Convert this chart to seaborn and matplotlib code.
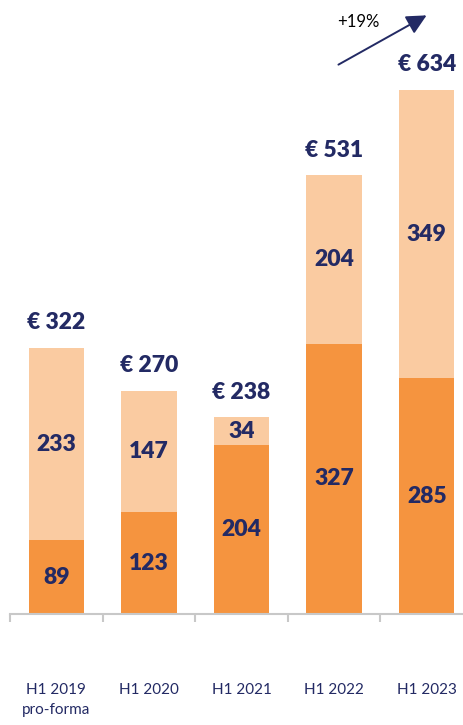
import matplotlib
matplotlib.use("Agg")
import matplotlib.pyplot as plt
import seaborn as sns
import pandas as pd
import numpy as np

categories = ["H1 2019\npro-forma", "H1 2020", "H1 2021", "H1 2022", "H1 2023"]
bottom_vals = [89, 123, 204, 327, 285]
top_vals = [233, 147, 34, 204, 349]
totals = [322, 270, 238, 531, 634]
growth_label = "+19%"

sns.set_theme(style="white")
plt.rcParams['font.family'] = ['Lato', 'DejaVu Sans']

DARK = "#F5943F"
LIGHT = "#FACBA1"
NAVY = "#232A64"
GRID = "#C8C8C8"

fig = plt.figure(figsize=(4.64, 7.25), dpi=100)
ax = fig.add_axes([10/464, (725-614)/725, 463/464, (614-35.4)/725])

df = pd.DataFrame({"cat": categories, "bottom": bottom_vals, "top": top_vals, "total": totals})
sns.barplot(data=df, x="cat", y="total", color=LIGHT, width=0.6, ax=ax, saturation=1, linewidth=0)
sns.barplot(data=df, x="cat", y="bottom", color=DARK, width=0.6, ax=ax, saturation=1, linewidth=0)

ax.set_xlim(-0.5, 4.5)
ax.set_ylim(0, 700)
ax.set_xlabel("")
ax.set_ylabel("")
ax.set_yticks([])
for s in ["top", "right", "left"]:
    ax.spines[s].set_visible(False)
ax.spines["bottom"].set_color(GRID)
ax.spines["bottom"].set_linewidth(1.5)

n = len(categories)
ax.set_xticks(np.arange(-0.5, n, 1.0))
ax.set_xticklabels([])
ax.tick_params(axis="x", which="major", length=6, width=1.5, color=GRID, bottom=True)
ax.set_xticks(np.arange(n), minor=True)
ax.set_xticklabels(categories, minor=True, fontsize=11, color=NAVY, linespacing=1.5)
ax.tick_params(axis="x", which="minor", length=0, pad=50)

for i in range(n):
    b, t, tot = bottom_vals[i], top_vals[i], totals[i]
    ax.text(i, b/2, f"{b}", ha="center", va="center", fontsize=16.5, fontweight="heavy", color=NAVY)
    ax.text(i, b + t/2, f"{t}", ha="center", va="center", fontsize=16.5, fontweight="heavy", color=NAVY)
    ax.annotate(f"€ {tot}", (i, tot), xytext=(0, 18), textcoords="offset points",
                ha="center", va="center", fontsize=16.5, fontweight="heavy", color=NAVY)

# growth arrow
fig.add_artist(matplotlib.patches.FancyArrowPatch(
    (336/464, 1-66/725), (429/464, 1-14/725), transform=fig.transFigure,
    arrowstyle="-|>,head_length=12,head_width=6", mutation_scale=1,
    color=NAVY, lw=1.4))
fig.text(358/464, 1-22/725, growth_label, ha="center", va="center", fontsize=12, color="black")

fig.savefig("out.png", dpi=100)
